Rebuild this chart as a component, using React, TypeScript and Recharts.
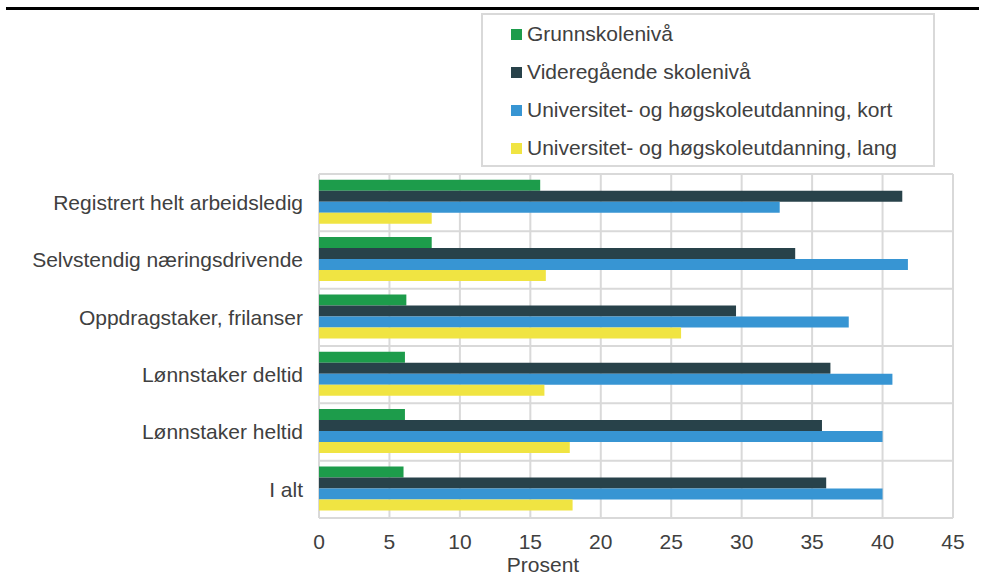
import { BarChart, Bar, XAxis, YAxis, CartesianGrid, Legend } from 'recharts';

const categories = [
    'Registrert helt arbeidsledig',
    'Selvstendig næringsdrivende',
    'Oppdragstaker, frilanser',
    'Lønnstaker deltid',
    'Lønnstaker heltid',
    'I alt',
];

const grunnskole = [15.7, 8.0, 6.2, 6.1, 6.1, 6.0];
const videregaende = [41.4, 33.8, 29.6, 36.3, 35.7, 36.0];
const uniKort = [32.7, 41.8, 37.6, 40.7, 40.0, 40.0];
const uniLang = [8.0, 16.1, 25.7, 16.0, 17.8, 18.0];

const xTicks = [0, 5, 10, 15, 20, 25, 30, 35, 40, 45];

const seriesNames = [
    'Grunnskolenivå',
    'Videregående skolenivå',
    'Universitet- og høgskoleutdanning, kort',
    'Universitet- og høgskoleutdanning, lang',
];

const data = categories.map((name, i) => ({
    name,
    grunnskole: grunnskole[i],
    videregaende: videregaende[i],
    uniKort: uniKort[i],
    uniLang: uniLang[i],
}));

const FONT = '"Liberation Sans", Arial, sans-serif';
const TEXT = '#404040';
const GRID = '#d9d9d9';

function LegendBox({ payload }: any) {
    // keep the series order, not alphabetical
    const items = [...(payload || [])].sort(
        (a: any, b: any) => seriesNames.indexOf(a.value) - seriesNames.indexOf(b.value)
    );
    return (
        <div
            style={{
                border: `2px solid ${GRID}`,
                boxSizing: 'border-box',
                width: 454,
                height: 154,
                paddingTop: 0,
                paddingLeft: 28,
                fontFamily: FONT,
                fontSize: 21,
                color: TEXT,
            }}
        >
            {items.map((item: any) => (
                <div
                    key={item.value}
                    style={{ display: 'flex', alignItems: 'center', height: 38 }}
                >
                    <span
                        style={{
                            display: 'inline-block',
                            width: 11,
                            height: 11,
                            background: item.color,
                            marginRight: 5,
                        }}
                    />
                    <span>{item.value}</span>
                </div>
            ))}
        </div>
    );
}

export default function App() {
    const n = categories.length;
    return (
        <div style={{ position: 'absolute', left: 0, top: 0, width: 985, height: 576, background: '#fff' }}>
            <div style={{ position: 'absolute', left: 6, top: 7, width: 973, height: 3, background: '#000' }} />
            <BarChart
                width={985}
                height={576}
                data={data}
                layout="vertical"
                margin={{ top: 174, right: 32, bottom: 0, left: 0 }}
                barCategoryGap="10%"
                barGap={0}
            >
                <CartesianGrid
                    stroke={GRID}
                    strokeWidth={2}
                    horizontalCoordinatesGenerator={({ offset }: any) =>
                        Array.from({ length: n + 1 }, (_, i) => offset.top + (i * offset.height) / n)
                    }
                />
                <XAxis
                    type="number"
                    domain={[0, 45]}
                    ticks={xTicks}
                    interval={0}
                    height={58}
                    axisLine={false}
                    tickLine={false}
                    tickSize={6}
                    tickMargin={10}
                    tick={{ fill: TEXT, fontSize: 21, fontFamily: FONT }}
                    label={{
                        value: 'Prosent',
                        position: 'insideBottom',
                        offset: 4,
                        dx: -93,
                        fill: TEXT,
                        fontSize: 21,
                        fontFamily: FONT,
                    }}
                />
                <YAxis
                    type="category"
                    dataKey="name"
                    width={319}
                    axisLine={false}
                    tickLine={false}
                    tickSize={6}
                    tickMargin={10}
                    interval={0}
                    tick={{ fill: TEXT, fontSize: 21, fontFamily: FONT }}
                />
                <Legend
                    layout="vertical"
                    align="center"
                    verticalAlign="middle"
                    content={<LegendBox />}
                    wrapperStyle={{ left: 481, top: 13, width: 454, height: 154 }}
                />
                <Bar dataKey="grunnskole" name={seriesNames[0]} fill="#1d9c4b" isAnimationActive={false} />
                <Bar dataKey="videregaende" name={seriesNames[1]} fill="#28424a" isAnimationActive={false} />
                <Bar dataKey="uniKort" name={seriesNames[2]} fill="#3795d3" isAnimationActive={false} />
                <Bar dataKey="uniLang" name={seriesNames[3]} fill="#f0e442" isAnimationActive={false} />
            </BarChart>
        </div>
    );
}
